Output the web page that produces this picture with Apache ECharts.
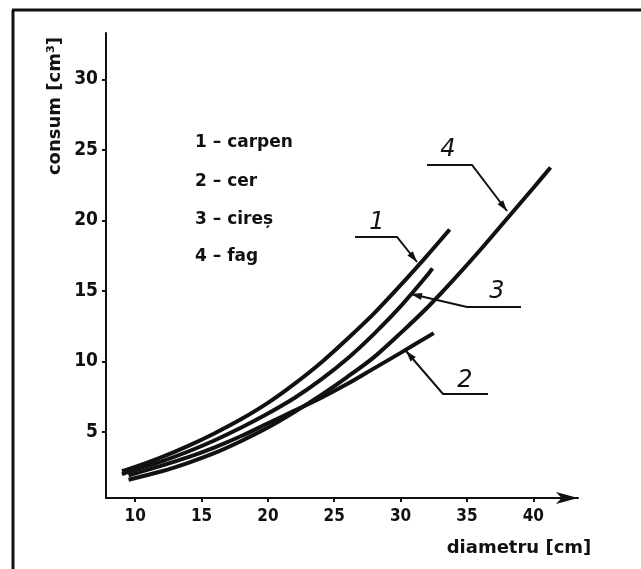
<!DOCTYPE html>
<html><head><meta charset="utf-8">
<script src="https://cdn.jsdelivr.net/npm/echarts@6/dist/echarts.min.js"></script>
<style>html,body{margin:0;padding:0;background:#fff}#c{width:641px;height:569px}</style>
</head><body><div id="c"></div>
<script>
// Series data (diametru [cm] -> consum [cm³])
const carpenX = [9, 10, 12, 14, 16, 18, 20, 22, 24, 26, 28, 30, 32, 33.7];
const carpenY = [2.2, 2.5, 3.2, 4.0, 4.9, 5.9, 7.05, 8.4, 9.9, 11.6, 13.4, 15.4, 17.5, 19.35];
const cerX = [9.5, 12, 14, 16, 18, 20, 22, 24, 26, 28, 30, 32.5];
const cerY = [1.9, 2.6, 3.2, 3.9, 4.7, 5.6, 6.5, 7.4, 8.4, 9.5, 10.6, 12.0];
const ciresX = [9, 10, 12, 14, 16, 18, 20, 22, 24, 26, 28, 30, 32, 32.4];
const ciresY = [2.0, 2.3, 2.9, 3.6, 4.4, 5.3, 6.3, 7.4, 8.7, 10.2, 11.95, 13.9, 16.1, 16.6];
const fagX = [9.5, 12, 14, 16, 18, 20, 22, 24, 26, 28, 30, 32, 34, 36, 38, 40, 41.3];
const fagY = [1.6, 2.2, 2.8, 3.5, 4.35, 5.3, 6.4, 7.6, 8.9, 10.3, 12.0, 13.8, 15.8, 17.9, 20.1, 22.3, 23.75];

const xTicks = [10, 15, 20, 25, 30, 35, 40];
const yTicks = [5, 10, 15, 20, 25, 30];
const legendLines = ['1 – carpen', '2 – cer', '3 – cireș', '4 – fag'];
const curveNumbers = ['1', '2', '3', '4'];
const xName = 'diametru [cm]';
const yName = 'consum [cm³]';

function pairs(xs, ys) { return xs.map((x, i) => [x, ys[i]]); }

const chart = echarts.init(document.getElementById('c'), null, {renderer: 'canvas'});
const INK = '#111';
const lineStyle = {color: INK, width: 4};

function mkSeries(name, xs, ys) {
  return {name, type: 'line', data: pairs(xs, ys), smooth: 0.3, showSymbol: false,
    lineStyle, silent: true, z: 3};
}

// arrow leader helper (pixel decorations)
function leader(points) {
  const n = points.length;
  const [tx, ty] = points[n - 1];
  const [px, py] = points[n - 2];
  const ang = Math.atan2(ty - py, tx - px);
  const L = 11, W = 3.5;
  const bx = tx - L * Math.cos(ang), by = ty - L * Math.sin(ang);
  const nx = -Math.sin(ang) * W, ny = Math.cos(ang) * W;
  return [
    {type: 'polyline', shape: {points}, style: {stroke: INK, lineWidth: 2, fill: null}, z: 5},
    {type: 'polygon', shape: {points: [[tx, ty], [bx + nx, by + ny], [bx - nx, by - ny]]},
      style: {fill: INK}, z: 5}
  ];
}

const legendTop = [143, 182, 220, 257];
const graphics = [
  // frame
  {type: 'line', shape: {x1: 12, y1: 10, x2: 641, y2: 10}, style: {stroke: INK, lineWidth: 3}},
  {type: 'line', shape: {x1: 13, y1: 10, x2: 13, y2: 569}, style: {stroke: INK, lineWidth: 3}},
  // axis names
  {type: 'text', x: 55, y: 106, rotation: Math.PI / 2,
    style: {text: yName, font: 'bold 18px "DejaVu Sans"', fill: INK, align: 'center', verticalAlign: 'middle'}},
  {type: 'text', x: 519, y: 548,
    style: {text: xName, font: 'bold 18px "DejaVu Sans"', fill: INK, align: 'center', verticalAlign: 'middle'}}
];
legendLines.forEach((t, i) => {
  graphics.push({type: 'text', x: 195, y: legendTop[i],
    style: {text: t, font: 'bold 17px "DejaVu Sans"', fill: INK, align: 'left', verticalAlign: 'middle'}});
});
// curve number annotations
const numPos = [[377, 223], [465, 381], [497, 292], [448, 150]];
curveNumbers.forEach((t, i) => {
  graphics.push({type: 'text', x: numPos[i][0], y: numPos[i][1],
    style: {text: t, font: 'italic 24px "DejaVu Sans"', fill: INK, align: 'center', verticalAlign: 'middle'}});
});
graphics.push(...leader([[355, 237], [397, 237], [417, 262]]));
graphics.push(...leader([[488, 394], [443, 394], [406, 351]]));
graphics.push(...leader([[521, 307], [467, 307], [437, 300], [411, 294]]));
graphics.push(...leader([[427, 165], [472, 165], [507, 211]]));

chart.setOption({
  animation: false,
  backgroundColor: '#fff',
  grid: {left: 106, right: 63, top: 33, bottom: 71, containLabel: false},
  xAxis: {
    type: 'value', min: 7.8, max: 43.37,
    axisLine: {show: true, onZero: false, lineStyle: {color: INK, width: 2},
      symbol: ['none', 'arrow'], symbolSize: [9, 22]},
    axisTick: {show: true, customValues: xTicks, length: 4, lineStyle: {color: INK, width: 2}},
    axisLabel: {customValues: xTicks, margin: 10, fontSize: 17, fontWeight: 'bold', color: INK,
      fontFamily: 'DejaVu Sans Condensed'},
    splitLine: {show: false}
  },
  yAxis: {
    type: 'value', min: 0.3, max: 33.3,
    axisLine: {show: true, onZero: false, lineStyle: {color: INK, width: 2}},
    axisTick: {show: true, customValues: yTicks, length: 4, lineStyle: {color: INK, width: 2}},
    axisLabel: {customValues: yTicks, margin: 8, fontSize: 19, fontWeight: 'bold', color: INK,
      fontFamily: 'DejaVu Sans Condensed'},
    splitLine: {show: false}
  },
  series: [
    mkSeries('carpen', carpenX, carpenY),
    mkSeries('cer', cerX, cerY),
    mkSeries('cireș', ciresX, ciresY),
    mkSeries('fag', fagX, fagY)
  ],
  graphic: graphics
});
</script>
</body></html>
